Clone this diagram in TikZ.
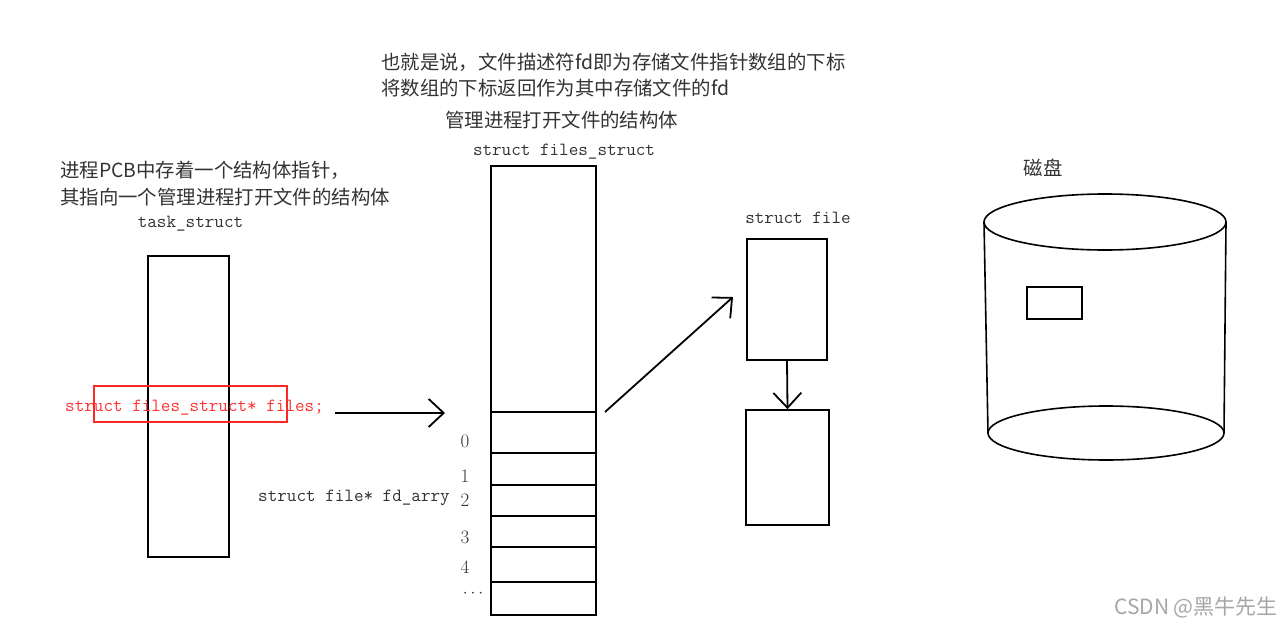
\documentclass[tikz,border=0pt]{standalone}
\usepackage{fontspec}
\newfontfamily\cjk{Noto Sans CJK SC}
\usetikzlibrary{arrows.meta,positioning}
\tikzset{
    box/.style={draw,line width=1.8pt,inner sep=0pt},
    note/.style={inner sep=0pt,anchor=west,text=black!80,font=\cjk\fontsize{19.4}{23}\selectfont},
    code/.style={inner sep=0pt,text=black!80,font=\ttfamily\fontsize{18.6}{22}\selectfont},
    idx/.style={inner sep=0pt,text=black!80,font=\fontsize{19}{22}\selectfont},
    arrow/.style={-{Straight Barb[length=15pt,width=28pt,line width=1.8pt]},line width=1.8pt}
}
\begin{document}
\begin{tikzpicture}[x=1pt,y=-1pt]
    \useasboundingbox (0,0) rectangle (1283,629);

    % notes on top
    \node[note] (n1) at (381,62) {也就是说，文件描述符fd即为存储文件指针数组的下标};
    \node[note] (n2) at (381,88) {将数组的下标返回作为其中存储文件的fd};
    \node[note] (n3) at (445,120) {管理进程打开文件的结构体};
    \node[note] (n4) at (60,170) {进程PCB中存着一个结构体指针，};
    \node[note] (n5) at (60,197) {其指向一个管理进程打开文件的结构体};

    % task_struct
    \node[code] (tasklbl) at (190.5,224) {task\_struct};
    \node[box,minimum width=81,minimum height=301] (task) at (188.5,406.5) {};
    \node[draw=red!85,line width=1.3pt,minimum width=193,minimum height=36] (hl) at (190.5,404) {};
    \node[code,anchor=west,text=red!80] (files) at (65,408) {struct files\_struct* files;};
    \coordinate (fsin) at (445,413);
    \draw[arrow] (335,413) -- (fsin);

    % files_struct with fd array
    \node[code] (fslbl) at (564,152) {struct files\_struct};
    \node[box,minimum width=105,minimum height=449] (fs) at (543.5,390.5) {};
    \foreach \y in {412,453,485,516,547,582}
        \draw[line width=1.8pt] (fs.west |- 0,\y) -- (fs.east |- 0,\y);
    \foreach \i/\y in {0/441,1/476,2/500,3/537,4/567}
        \node[idx] (i\i) at (465,\y) {\i};
    \node[idx] (idots) at (473,594) {$\cdots$};
    \node[code,anchor=east] (fdarr) at (450,498) {struct file* fd\_arry};

    % struct file
    \node[code] (filelbl) at (798,218) {struct file};
    \node[box,minimum width=80,minimum height=121] (f1) at (787,299.5) {};
    \node[box,minimum width=83,minimum height=115] (f2) at (787.5,467.5) {};
    \coordinate (fsout) at (605,412);
    \coordinate (f1in) at (733,297);
    \draw[arrow] (fsout) -- (f1in);
    \draw[arrow] (f1.south) -- (f2.north);

    % disk
    \node[note,anchor=center] (disklbl) at (1043,168) {磁盘};
    \draw[line width=1.6pt] (1105,222) ellipse [x radius=121,y radius=28];
    \draw[line width=1.6pt] (1106,433) ellipse [x radius=118,y radius=27];
    \draw[line width=1.6pt] (984,222) -- (988,433);
    \draw[line width=1.6pt] (1226,222) -- (1224,433);
    \node[box,line width=1.6pt,minimum width=55,minimum height=32] (blk) at (1054.5,303) {};

    % watermark
    \node[inner sep=0pt,anchor=east,text=black!35,font=\cjk\fontsize{21}{24}\selectfont] (wm) at (1278,607) {CSDN @黑牛先生};
\end{tikzpicture}
\end{document}
